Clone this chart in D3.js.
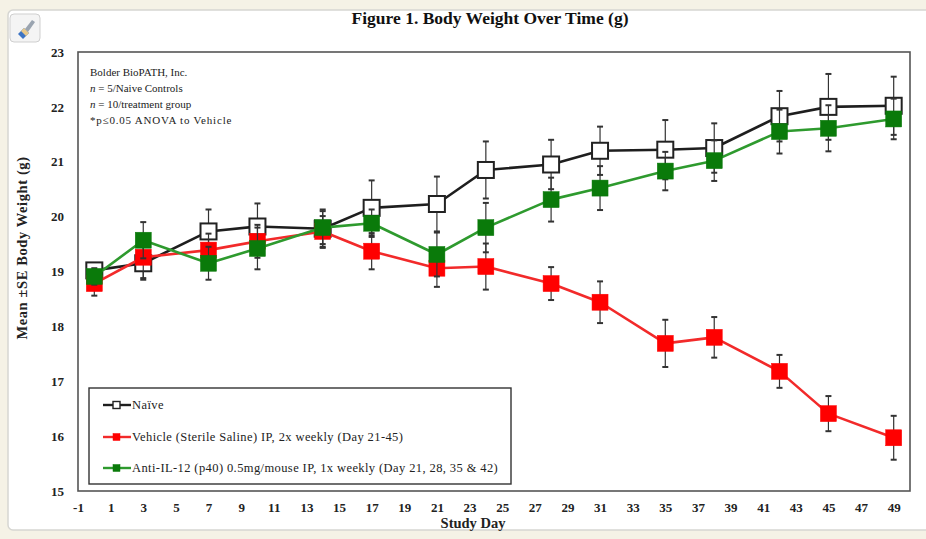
<!DOCTYPE html>
<html>
<head>
<meta charset="utf-8">
<script src="https://cdn.jsdelivr.net/npm/d3@7"></script>
<style>
html,body{margin:0;padding:0;background:#f5f2e6;}
svg{display:block;}
</style>
</head>
<body>
<svg id="chart" width="926" height="539"></svg>
<script>
const days = [0, 3, 7, 10, 14, 17, 21, 24, 28, 31, 35, 38, 42, 45, 49];
const naiveMean = [19.02, 19.15, 19.73, 19.82, 19.78, 20.16, 20.23, 20.85, 20.95, 21.2, 21.22, 21.25, 21.83, 22.0, 22.02];
const naiveSE   = [0.12, 0.3, 0.4, 0.42, 0.35, 0.5, 0.5, 0.52, 0.45, 0.44, 0.54, 0.45, 0.46, 0.6, 0.53];
const vehicleMean = [18.78, 19.26, 19.39, 19.55, 19.73, 19.37, 19.06, 19.09, 18.78, 18.44, 17.69, 17.8, 17.18, 16.41, 15.97];
const vehicleSE   = [0.22, 0.38, 0.3, 0.3, 0.28, 0.33, 0.34, 0.42, 0.3, 0.38, 0.43, 0.37, 0.3, 0.32, 0.4];
const antiMean = [18.91, 19.57, 19.15, 19.42, 19.8, 19.88, 19.31, 19.8, 20.31, 20.52, 20.83, 21.02, 21.55, 21.61, 21.78];
const antiSE   = [0.15, 0.33, 0.3, 0.38, 0.3, 0.25, 0.4, 0.45, 0.4, 0.4, 0.35, 0.37, 0.4, 0.42, 0.37];
const xTicks = d3.range(-1, 50, 2);
const yTicks = [15, 16, 17, 18, 19, 20, 21, 22, 23];
const seriesNames = ["Naïve", "Vehicle (Sterile Saline) IP, 2x weekly (Day 21-45)", "Anti-IL-12 (p40) 0.5mg/mouse IP, 1x weekly (Day 21, 28, 35 & 42)"];
const notes = ["Bolder BioPATH, Inc.", "n = 5/Naive Controls", "n = 10/treatment group", "*p≤0.05 ANOVA to Vehicle"];

const series = [
  {name: seriesNames[0], mean: naiveMean, se: naiveSE, line: "#1e1e1e", fill: "#ffffff", stroke: "#222"},
  {name: seriesNames[1], mean: vehicleMean, se: vehicleSE, line: "#f22a2a", fill: "#ff0000", stroke: "#f00"},
  {name: seriesNames[2], mean: antiMean, se: antiSE, line: "#2e9a2e", fill: "#0a7a0a", stroke: "#0a7a0a"}
];

const svg = d3.select("#chart");
const serif = "'Liberation Serif', 'Times New Roman', serif";

// background panel
svg.append("rect").attr("x", 0).attr("y", 0).attr("width", 926).attr("height", 539).attr("fill", "#f5f2e6");
svg.append("rect").attr("x", 8).attr("y", 10).attr("width", 930).attr("height", 520).attr("rx", 5)
  .attr("fill", "#ffffff").attr("stroke", "#d6d6d2").attr("stroke-width", 1.5);

// paint brush button
const btn = svg.append("g").attr("transform", "translate(10,14)");
btn.append("rect").attr("x", 0).attr("y", 0).attr("width", 30).attr("height", 28).attr("rx", 4)
  .attr("fill", "#f4f4f4").attr("stroke", "#cfcfcf");
btn.append("path").attr("d", "M8,20 L14,14 L19,19 L13,25 Z").attr("fill", "#3d74c4");
btn.append("path").attr("d", "M11,17 L14,14 L19,19 L16,22 Z").attr("fill", "#e9c98a");
btn.append("path").attr("d", "M15,15 L22,6 L25,8 L18,18 Z").attr("fill", "#9aa4b0");

const pL = 78, pR = 910, pT = 52, pB = 491;
const x = d3.scaleLinear().domain([-1, 50]).range([pL, pR]);
const y = d3.scaleLinear().domain([15, 23]).range([pB, pT]);

// title
svg.append("text").attr("x", 490).attr("y", 24).attr("text-anchor", "middle")
  .attr("font-family", serif).attr("font-weight", "bold").attr("font-size", 17.5)
  .attr("fill", "#111").text("Figure 1. Body Weight Over Time (g)");

// axes
const yAxis = d3.axisLeft(y).tickValues(yTicks).tickSize(0).tickPadding(10).tickFormat(d => String(d));
const gy = svg.append("g").attr("transform", `translate(${pL},0)`).call(yAxis);
gy.select(".domain").remove();
gy.selectAll("text").attr("font-family", serif).attr("font-weight", "bold").attr("font-size", 13).attr("fill", "#222").attr("dx", -4);

const xAxis = d3.axisBottom(x).tickValues(xTicks).tickSize(0).tickPadding(12).tickFormat(d => String(d));
const gx = svg.append("g").attr("transform", `translate(0,${pB})`).call(xAxis);
gx.select(".domain").remove();
gx.selectAll("text").attr("font-family", serif).attr("font-weight", "bold").attr("font-size", 13).attr("fill", "#222");

// plot frame
svg.append("rect").attr("x", pL).attr("y", pT).attr("width", pR - pL).attr("height", pB - pT)
  .attr("fill", "none").attr("stroke", "#555").attr("stroke-width", 1.6);

// axis titles
svg.append("text").attr("x", 473).attr("y", 528).attr("text-anchor", "middle")
  .attr("font-family", serif).attr("font-weight", "bold").attr("font-size", 14.5).attr("fill", "#222").text("Study Day");
svg.append("text").attr("transform", `translate(27,248) rotate(-90)`).attr("text-anchor", "middle")
  .attr("font-family", serif).attr("font-weight", "bold").attr("font-size", 14.5).attr("letter-spacing", 0.6)
  .attr("fill", "#222").text("Mean ±SE Body Weight (g)");

// notes
const noteG = svg.append("g").attr("font-family", serif).attr("font-size", 11).attr("fill", "#222");
notes.forEach((t, i) => {
  const tx = noteG.append("text").attr("x", 90).attr("y", 76 + i * 16);
  if (t.startsWith("n = ")) {
    tx.append("tspan").attr("font-style", "italic").text("n");
    tx.append("tspan").text(t.slice(1));
  } else {
    tx.text(t);
  }
  if (i === 3) tx.attr("letter-spacing", 0.8);
});

// series drawing
const lineGen = d3.line().x((d, i) => x(days[i])).y(d => y(d));
const ms = 16;
series.forEach(s => {
  const g = svg.append("g");
  const eb = g.append("g").attr("stroke", "#333").attr("stroke-width", 1.2);
  s.mean.forEach((m, i) => {
    const cx = x(days[i]);
    eb.append("line").attr("x1", cx).attr("x2", cx).attr("y1", y(m - s.se[i])).attr("y2", y(m + s.se[i]));
    [m - s.se[i], m + s.se[i]].forEach(v => {
      eb.append("line").attr("x1", cx - 3).attr("x2", cx + 3).attr("y1", y(v)).attr("y2", y(v)).attr("stroke-width", 2);
    });
  });
  g.append("path").datum(s.mean).attr("d", lineGen).attr("fill", "none")
    .attr("stroke", s.line).attr("stroke-width", 2.6).attr("stroke-linejoin", "round");
  g.selectAll("rect.m").data(s.mean).join("rect").attr("class", "m")
    .attr("x", (d, i) => x(days[i]) - ms / 2).attr("y", d => y(d) - ms / 2)
    .attr("width", ms).attr("height", ms)
    .attr("fill", s.fill).attr("stroke", s.stroke).attr("stroke-width", s.fill === "#ffffff" ? 2 : 0.5);
});

// legend
const lg = svg.append("g");
lg.append("rect").attr("x", 89).attr("y", 388).attr("width", 422).attr("height", 96)
  .attr("fill", "#fff").attr("stroke", "#333").attr("stroke-width", 1.4);
const legY = [405, 437, 468];
series.forEach((s, i) => {
  lg.append("line").attr("x1", 103).attr("x2", 131).attr("y1", legY[i]).attr("y2", legY[i])
    .attr("stroke", s.line).attr("stroke-width", 2.4);
  lg.append("rect").attr("x", 113).attr("y", legY[i] - 3.5).attr("width", 7).attr("height", 7)
    .attr("fill", s.fill).attr("stroke", s.stroke).attr("stroke-width", s.fill === "#ffffff" ? 1.4 : 0.5);
  lg.append("text").attr("x", 132).attr("y", legY[i] + 4).attr("font-family", serif)
    .attr("font-size", 12.5).attr("letter-spacing", 0.4).attr("fill", "#222").text(s.name);
});
</script>
</body>
</html>
